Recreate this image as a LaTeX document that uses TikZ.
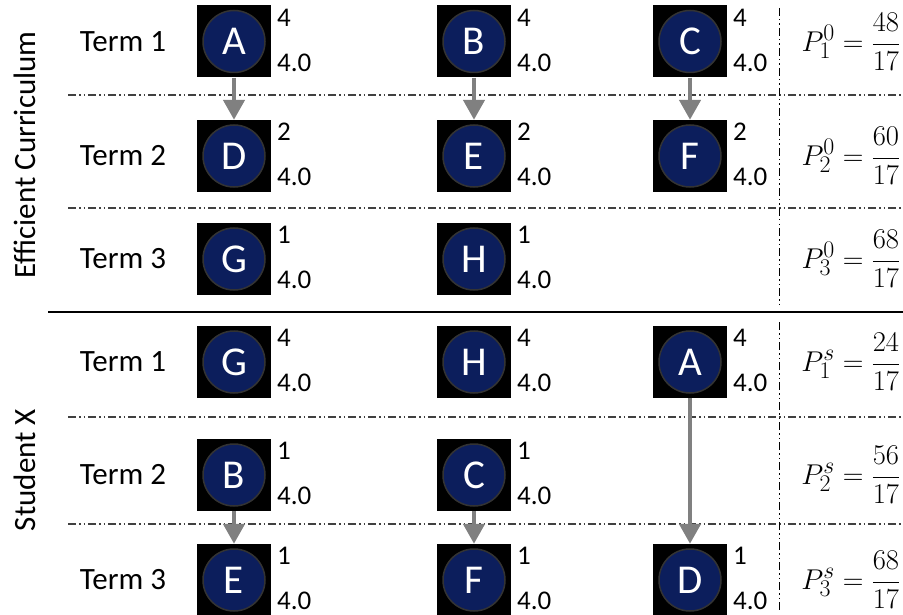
\documentclass[tikz,border=0pt]{standalone}
\usepackage[no-math]{fontspec}
\usepackage{graphicx}
\setmainfont{Carlito}
\usetikzlibrary{arrows.meta}
\definecolor{navy}{RGB}{12,30,92}
\definecolor{arrowgray}{RGB}{128,128,128}
\newcommand{\crs}[5]{%
  \node[cbox] (#1) at (#2,#3) {};
  \node[ccirc] (#1c) at (#2,#3) {#4};
  \node[numtxt] (#1n) at (#2+43,#3-24) {#5};
  \node[numtxt] (#1g) at (#2+43,#3+21) {4.0};
}
\newcommand{\pfrm}[3]{\scalebox{1.15}{$P_{#1}^{#2} = \displaystyle\frac{#3}{17}$}}
\begin{document}
\begin{tikzpicture}[x=1pt,y=-1pt,
  cbox/.style={fill=black, draw=none, minimum width=74pt, minimum height=72pt, inner sep=0pt},
  ccirc/.style={circle, fill=navy, draw=gray!40!black, line width=1.5pt, minimum size=62pt, inner sep=0pt, text=white, font=\fontsize{41}{41}\selectfont},
  numtxt/.style={anchor=west, inner sep=0pt, font=\fontsize{27}{30}\selectfont},
  termtxt/.style={inner sep=0pt, font=\fontsize{31}{36}\selectfont},
  mathtxt/.style={inner sep=0pt, font=\fontsize{24.88}{30}\selectfont},
  sep/.style={line width=1.3pt, black!75, dash pattern=on 8pt off 3pt on 1.5pt off 3pt on 1.5pt off 3pt},
  vsep/.style={line width=1pt, black, dash pattern=on 8pt off 3pt on 1.5pt off 3pt on 1.5pt off 3pt},
  flow/.style={line width=4.5pt, arrowgray, -{Triangle[width=21pt,length=20pt]}}
]
\useasboundingbox (0,0) rectangle (903,615);

% separators
\draw[sep] (68,95) -- (903,95);
\draw[sep] (68,208) -- (903,208);
\draw[sep] (68,417) -- (903,417);
\draw[sep] (68,524) -- (903,524);
\draw[line width=1.3pt, black] (48,312) -- (903,312);
\draw[vsep] (779,8) -- (779,305);
\draw[vsep] (779,322) -- (779,612);

% side labels
\node[termtxt, rotate=90] (lec) at (25,155) {Efficient Curriculum};
\node[termtxt, rotate=90] (lsx) at (25,470) {Student X};

% term labels
\node[termtxt] (t1) at (123,42) {Term 1};
\node[termtxt] (t2) at (123,156) {Term 2};
\node[termtxt] (t3) at (123,259) {Term 3};
\node[termtxt] (t4) at (123,362) {Term 1};
\node[termtxt] (t5) at (123,475) {Term 2};
\node[termtxt] (t6) at (123,580) {Term 3};

% efficient curriculum
\crs{eA}{234}{41.5}{A}{4}
\crs{eB}{474}{41.5}{B}{4}
\crs{eC}{690}{41.5}{C}{4}
\crs{eD}{234}{156}{D}{2}
\crs{eE}{474}{156}{E}{2}
\crs{eF}{690}{156}{F}{2}
\crs{eG}{234}{259}{G}{1}
\crs{eH}{474}{259}{H}{1}

% student X
\crs{sG}{234}{362}{G}{4}
\crs{sH}{474}{362}{H}{4}
\crs{sA}{690}{362}{A}{4}
\crs{sB}{234}{475}{B}{1}
\crs{sC}{474}{475}{C}{1}
\crs{sE}{234}{580}{E}{1}
\crs{sF}{474}{580}{F}{1}
\crs{sD}{690}{580}{D}{1}

% arrows
\draw[flow] (eA) -- (eD);
\draw[flow] (eB) -- (eE);
\draw[flow] (eC) -- (eF);
\draw[flow] (sB) -- (sE);
\draw[flow] (sC) -- (sF);
\draw[flow] (sA) -- (sD);

% formulas
\node[mathtxt] (p1) at (851,42) {\pfrm{1}{0}{48}};
\node[mathtxt] (p2) at (851,156) {\pfrm{2}{0}{60}};
\node[mathtxt] (p3) at (851,259) {\pfrm{3}{0}{68}};
\node[mathtxt] (p4) at (851,362) {\pfrm{1}{s}{24}};
\node[mathtxt] (p5) at (851,475) {\pfrm{2}{s}{56}};
\node[mathtxt] (p6) at (851,580) {\pfrm{3}{s}{68}};
\end{tikzpicture}
\end{document}
